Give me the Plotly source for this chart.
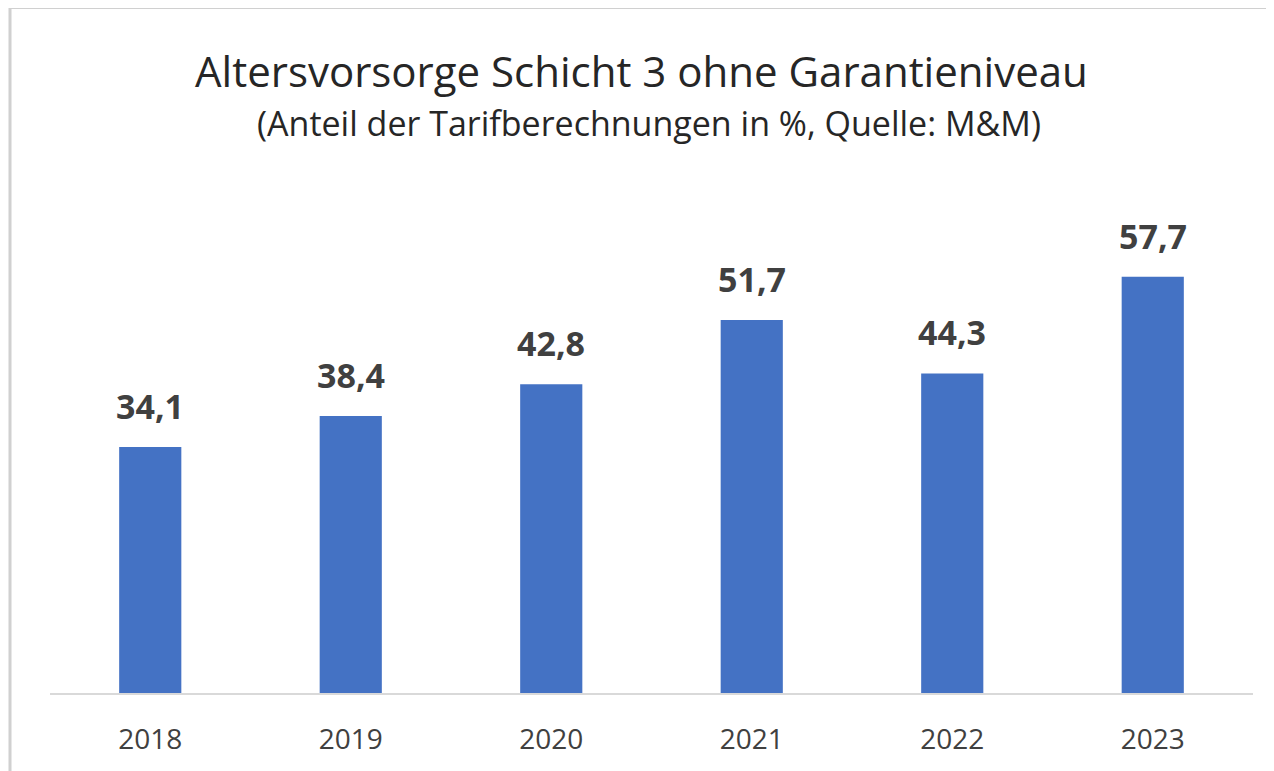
import plotly.graph_objects as go

years = ["2018", "2019", "2020", "2021", "2022", "2023"]
values = [34.1, 38.4, 42.8, 51.7, 44.3, 57.7]
labels = ["34,1", "38,4", "42,8", "51,7", "44,3", "57,7"]

title = "Altersvorsorge Schicht 3 ohne Garantieniveau"
subtitle = "(Anteil der Tarifberechnungen in %, Quelle: M&M)"

# page body has an 8px margin; figure placed at (8, 8)
OFF = 8
W, H = 1274 - OFF, 771 - OFF
L, R, T, B = 50 - OFF, 21, 188 - OFF, 78
pw, ph = W - L - R, H - T - B


def px(x):
    return (x - OFF - L) / pw


def py(y):
    return (H - B - (y - OFF)) / ph


FONT = "Open Sans"

fig = go.Figure(go.Bar(
    x=years, y=values,
    marker=dict(color="#4472C4", line=dict(width=0)),
    width=0.31, hoverinfo="x+y",
))

# category axis: annotation x given as category index
annots = [
    dict(x=i, y=v, text=t, xref="x", yref="y", showarrow=False,
         xanchor="center", yanchor="bottom", yshift=16,
         font=dict(family=FONT, size=34, color="#404040", weight="bold"))
    for i, (v, t) in enumerate(zip(values, labels))
]
annots += [
    dict(text=title, xref="paper", yref="paper",
         x=px(641), y=py(70), xanchor="center", yanchor="middle",
         showarrow=False, font=dict(family=FONT, size=42, color="#262626")),
    dict(text=subtitle, xref="paper", yref="paper",
         x=px(649), y=py(123), xanchor="center", yanchor="middle",
         showarrow=False, font=dict(family=FONT, size=34, color="#262626")),
]

fig.update_layout(
    width=W, height=H, margin=dict(l=L, r=R, t=T, b=B),
    paper_bgcolor="white", plot_bgcolor="white", showlegend=False,
    xaxis=dict(type="category", range=[-0.5, len(years) - 0.5],
               showline=True, linecolor="#d9d9d9", linewidth=2,
               ticks="", ticklabelstandoff=20,
               tickfont=dict(family=FONT, size=28, color="#404040"),
               showgrid=False),
    yaxis=dict(range=[0, 70], visible=False, showgrid=False),
    annotations=annots,
    shapes=[
        dict(type="line", xref="paper", yref="paper",
             x0=px(10), x1=px(1274), y0=py(7.5), y1=py(7.5),
             line=dict(color="#d0d0d0", width=3)),
        dict(type="line", xref="paper", yref="paper",
             x0=px(10), x1=px(10), y0=py(7.5), y1=py(771),
             line=dict(color="#d0d0d0", width=3)),
    ],
)

fig.write_html("out.html")
